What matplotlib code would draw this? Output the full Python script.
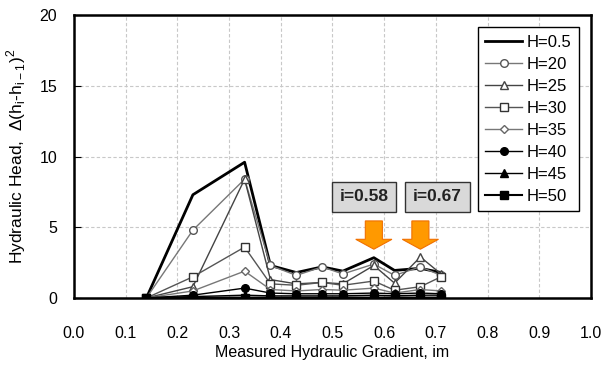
import matplotlib
matplotlib.use("Agg")
import matplotlib.pyplot as plt
from matplotlib.patches import FancyArrow

plt.rcParams['font.family'] = ['Liberation Sans', 'DejaVu Sans']
plt.rcParams['mathtext.fontset'] = 'custom'
plt.rcParams['mathtext.rm'] = 'Liberation Sans'

gradient = [0.14, 0.23, 0.33, 0.38, 0.43, 0.48, 0.52, 0.58, 0.62, 0.67, 0.71]
labels = ["H=0.5", "H=20", "H=25", "H=30", "H=35", "H=40", "H=45", "H=50"]
h05 = [0, 7.3, 9.6, 2.3, 1.8, 2.2, 1.9, 2.85, 1.95, 2.1, 1.8]
h20 = [0, 4.8, 8.4, 2.3, 1.6, 2.2, 1.7, 2.4, 1.6, 2.2, 1.6]
h25 = [0, 0.8, 8.4, 1.3, 1.0, 1.1, 1.0, 2.3, 1.05, 2.9, 1.7]
h30 = [0, 1.5, 3.6, 1.0, 0.9, 1.1, 0.9, 1.2, 0.55, 0.8, 1.5]
h35 = [0, 0.5, 1.9, 0.6, 0.5, 0.6, 0.55, 0.7, 0.35, 0.6, 0.5]
h40 = [0, 0.2, 0.7, 0.35, 0.3, 0.3, 0.3, 0.35, 0.3, 0.35, 0.3]
h45 = [0, 0.1, 0.2, 0.15, 0.15, 0.15, 0.15, 0.2, 0.15, 0.2, 0.2]
h50 = [0, 0.03, 0.03, 0.03, 0.03, 0.03, 0.03, 0.03, 0.03, 0.03, 0.03]
series = [h05, h20, h25, h30, h35, h40, h45, h50]
arrow_x = [0.58, 0.67]
box_x = [0.561, 0.703]
annot_text = ["i=0.58", "i=0.67"]

styles = [
    dict(color='black', lw=2.0, marker=None),
    dict(color='#777777', lw=1.0, marker='o', ms=5.5, mfc='white', mec='#555555'),
    dict(color='#444444', lw=1.0, marker='^', ms=5.5, mfc='white', mec='#444444'),
    dict(color='#555555', lw=1.0, marker='s', ms=5.5, mfc='white', mec='#333333'),
    dict(color='#777777', lw=1.0, marker='D', ms=4, mfc='white', mec='#666666'),
    dict(color='black', lw=1.0, marker='o', ms=5.5, mfc='black', mec='black'),
    dict(color='black', lw=1.0, marker='^', ms=5.5, mfc='black', mec='black'),
    dict(color='black', lw=1.5, marker='s', ms=5.5, mfc='black', mec='black'),
]

fig = plt.figure(figsize=(6.03, 3.69), dpi=100)
ax = fig.add_axes([0.1227, 0.1924, 0.8574, 0.7666])

for vals, lab, st in zip(series, labels, styles):
    ax.plot(gradient, vals, label=lab, **st)

ax.set_xlim(0, 1.0)
ax.set_ylim(0, 20)
ax.set_xticks([i / 10 for i in range(11)])
ax.set_xticklabels([f"{i/10:.1f}" for i in range(11)])
ax.set_yticks([0, 5, 10, 15, 20])
ax.grid(True, color='#c8c8c8', linestyle=(0, (3, 2)), lw=0.8)
ax.set_axisbelow(True)
for s in ax.spines.values():
    s.set_linewidth(1.8)
ax.tick_params(axis='x', direction='in', length=0, pad=20, labelsize=11.5)
ax.tick_params(axis='y', direction='in', length=5, pad=12, labelsize=11.5)

ax.set_xlabel("Measured Hydraulic Gradient, im", fontsize=11.5, labelpad=3)
ax.set_ylabel(r"Hydraulic Head,  $\Delta$(h$_\mathregular{i}$-h$_\mathregular{i-1}$)$^\mathregular{2}$",
              fontsize=12.5, labelpad=8)

for xa in arrow_x:
    ax.add_patch(FancyArrow(xa, 5.45, 0, -2.0, width=0.033, head_width=0.07,
                            head_length=0.7, length_includes_head=True,
                            color='#ff9900', ec='#f07000', lw=0.8, zorder=5))
for xb, t in zip(box_x, annot_text):
    ax.text(xb, 7.15, t, ha='center', va='center', fontsize=12.5, fontweight='bold',
            color='#222222', zorder=6,
            bbox=dict(boxstyle='square,pad=0.45', fc='#d9d9d9', ec='#333333', lw=1.0))

leg = ax.legend(loc='upper right', bbox_to_anchor=(0.977, 0.958), borderaxespad=0,
                fontsize=12, frameon=True, fancybox=False, edgecolor='black', framealpha=1,
                handlelength=2.2, handletextpad=0.3, labelspacing=0.42, borderpad=0.45)
leg.get_frame().set_linewidth(1.0)

fig.savefig("out.png", dpi=100)
